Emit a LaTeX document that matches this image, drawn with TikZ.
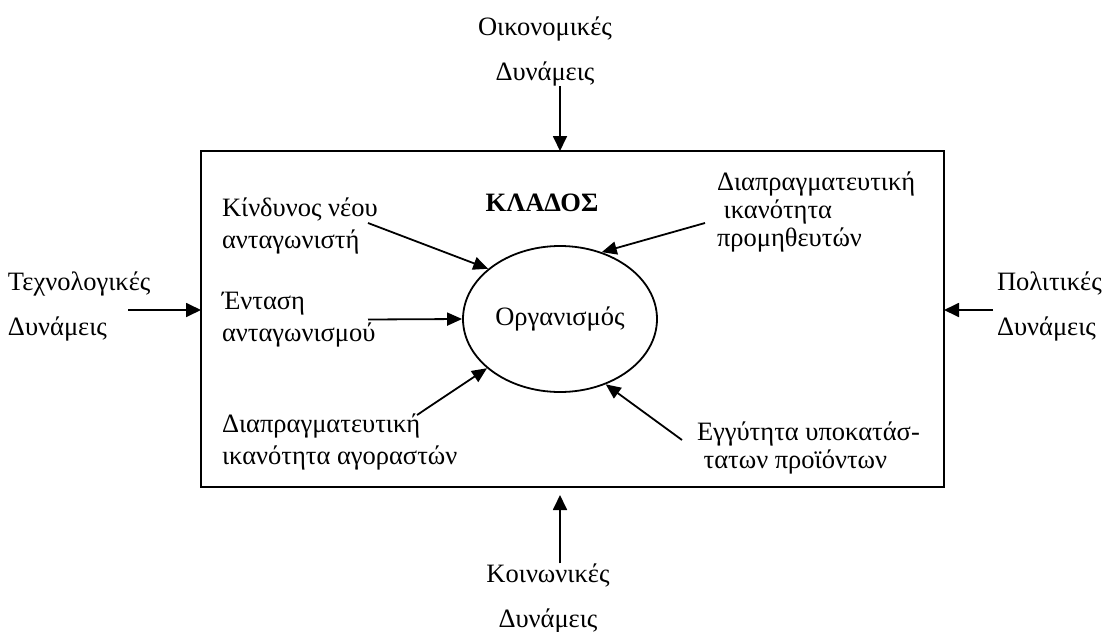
\documentclass[tikz,border=0pt]{standalone}
\usepackage{fontspec}
\setmainfont{Liberation Serif}
\usetikzlibrary{arrows.meta,shapes.geometric,calc}
\begin{document}
\begin{tikzpicture}[x=1pt,y=-1pt,
  inlabel/.style={font=\fontsize{26.5}{32}\selectfont, inner sep=0pt, outer sep=0pt, align=left, anchor=west},
  tightlabel/.style={inlabel, font=\fontsize{26.5}{28}\selectfont},
  forcelabel/.style={font=\fontsize{26.5}{45}\selectfont, inner sep=0pt, outer sep=0pt},
  force/.style={-{Triangle[length=15pt,width=14pt]}, line width=1.8pt},
  pull/.style={-{Triangle[length=15pt,width=13pt]}, line width=1.8pt}]
\useasboundingbox (0,0) rectangle (1104,632);

% industry frame and the organisation inside it
\node[draw, line width=2.6pt, minimum width=743pt, minimum height=336pt,
      inner sep=0pt, outer sep=0pt] (box) at (572.5,319) {};
\node[draw, ellipse, line width=1.8pt, minimum width=194pt, minimum height=146pt,
      inner sep=0pt, font=\fontsize{26.5}{32}\selectfont] (org) at (560,319) {Οργανισμός};
\node[font=\bfseries\fontsize{26.5}{32}\selectfont, inner sep=0pt] (klados) at (542,203) {ΚΛΑΔΟΣ};

% competitive forces inside the industry
\node[inlabel] (kin) at (222,226) {Κίνδυνος νέου\\ανταγωνιστή};
\node[inlabel] (ent) at (222,319.5) {Ένταση\\ανταγωνισμού};
\node[inlabel] (agor) at (222,442) {Διαπραγματευτική\\ικανότητα αγοραστών};
\node[tightlabel] (prom) at (717,212) {Διαπραγματευτική\\\ ικανότητα\\προμηθευτών};
\node[tightlabel] (egg) at (697,448) {Εγγύτητα υποκατάσ-\\\ τατων προϊόντων};

\draw[pull] ($(kin.west)+(146,-3)$) -- (org.145);
\draw[pull] ($(prom.west)+(-12,11)$) -- (org.58);
\draw[pull] ($(ent.west)+(146,0)$) -- (org.west);
\draw[pull] ($(agor.west)+(195,-27)$) -- (org.214);
\draw[pull] ($(egg.west)+(-15,-8)$) -- (org.-55);

% environmental forces outside the industry
\node[forcelabel, align=center] (oik) at (545,51.5) {Οικονομικές\\Δυνάμεις};
\node[forcelabel, align=center] (koin) at (548,598) {Κοινωνικές\\Δυνάμεις};
\node[forcelabel, align=left, anchor=west] (tech) at (8,306.5) {Τεχνολογικές\\Δυνάμεις};
\node[forcelabel, align=left, anchor=west] (pol) at (997,306.5) {Πολιτικές\\Δυνάμεις};

\coordinate (side) at (128,310);
\draw[force] (oik.south -| org) -- (org |- box.north);
\draw[force, shorten >=8pt] (koin.north -| org) -- (org |- box.south);
\draw[force] (side) -- (box.west |- side);
\draw[force] ([xshift=-4pt]pol.west |- side) -- (box.east |- side);
\end{tikzpicture}
\end{document}
